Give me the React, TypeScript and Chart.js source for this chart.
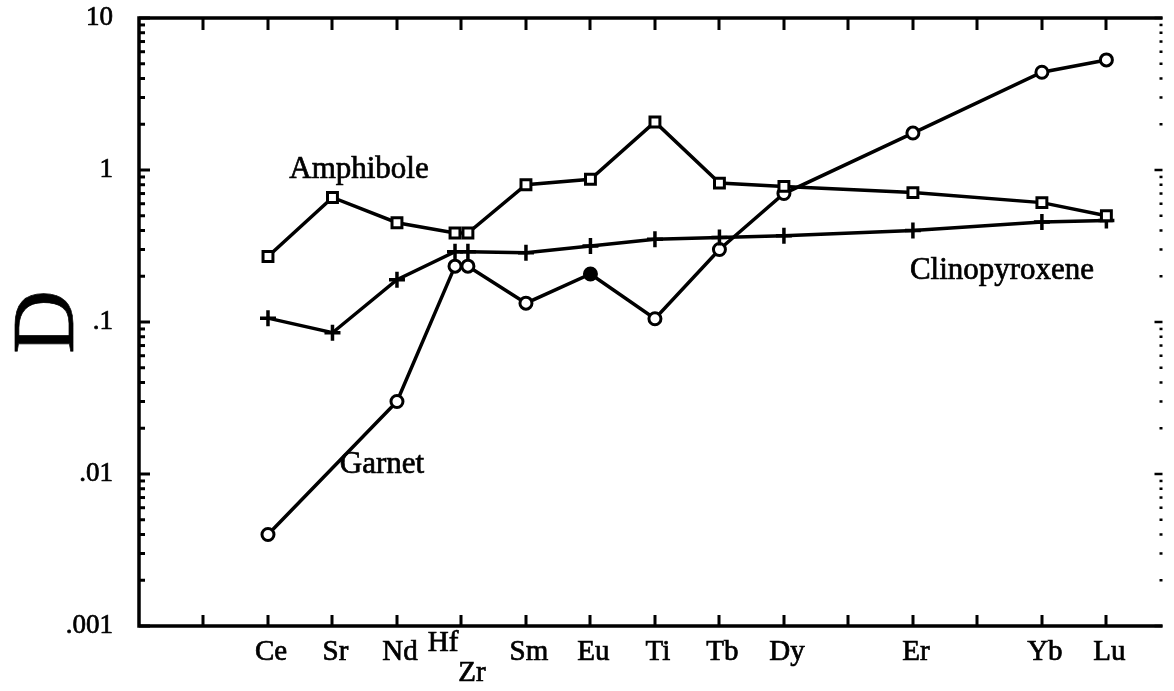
import React, { useEffect, useRef } from "react";
import { Chart, registerables } from "chart.js";

Chart.register(...registerables);

// Element order along the x axis and their slot positions
const elements = ["Ce", "Sr", "Nd", "Hf", "Zr", "Sm", "Eu", "Ti", "Tb", "Dy", "Er", "Yb", "Lu"];
const elementSlots = [2, 3, 4, 4.9, 5.1, 6, 7, 8, 9, 10, 12, 14, 15];

// Partition coefficients D
const amphibole = [0.27, 0.66, 0.45, 0.385, 0.385, 0.8, 0.87, 2.07, 0.82, 0.78, 0.71, 0.61, 0.5];
const clinopyroxene = [0.106, 0.085, 0.19, 0.29, 0.29, 0.285, 0.316, 0.35, 0.36, 0.37, 0.4, 0.455, 0.465];
const garnet = [0.004, null, 0.03, 0.233, 0.233, 0.133, 0.207, 0.105, 0.3, 0.7, 1.75, 4.4, 5.3];
const garnetFilled = ["Eu"];

// Axis ticks
const xTickSlots = [1, 2, 3, 4, 5, 6, 7, 8, 9, 10, 11, 12, 13, 14, 15];
const yDecades = [0.001, 0.01, 0.1, 1, 10];
const yDecadeLabels = [".001", ".01", ".1", "1", "10"];

const FONT = "'Liberation Serif', 'Times New Roman', serif";

function points(values: (number | null)[]) {
  const out: { x: number; y: number }[] = [];
  values.forEach((v, i) => {
    if (v !== null) out.push({ x: elementSlots[i], y: v });
  });
  return out;
}

// filled text with a thin outline so the serif glyphs read like print
function inkText(ctx: CanvasRenderingContext2D, text: string, x: number, y: number) {
  ctx.fillText(text, x, y);
  ctx.lineWidth = 0.7;
  ctx.strokeText(text, x, y);
}

const framePlugin = {
  id: "frame",
  afterDraw(chart: any) {
    const ctx = chart.ctx;
    const { left, right, top, bottom } = chart.chartArea;
    const xs = chart.scales.x;
    const ys = chart.scales.y;
    ctx.save();
    ctx.strokeStyle = "#000";
    ctx.fillStyle = "#000";
    ctx.lineCap = "butt";

    // frame: left, top, bottom
    ctx.lineWidth = 3.5;
    ctx.beginPath();
    ctx.moveTo(right, top);
    ctx.lineTo(left, top);
    ctx.lineTo(left, bottom);
    ctx.lineTo(right, bottom);
    ctx.stroke();

    // x ticks, inward on top and bottom
    ctx.lineWidth = 3;
    xTickSlots.forEach((s) => {
      const px = Math.round(xs.getPixelForValue(s));
      ctx.beginPath();
      ctx.moveTo(px, top);
      ctx.lineTo(px, top + 12);
      ctx.moveTo(px, bottom);
      ctx.lineTo(px, bottom - 11);
      ctx.stroke();
    });

    // y ticks: decades and minor 2..9, left side and right side
    for (let d = 0; d < yDecades.length; d++) {
      const base = yDecades[d];
      for (let m = 1; m <= 9; m++) {
        const v = base * m;
        if (v > 10.0001) break;
        const py = ys.getPixelForValue(v);
        const major = m === 1;
        ctx.lineWidth = 3;
        ctx.beginPath();
        ctx.moveTo(left, py);
        ctx.lineTo(left + (major ? 11 : 6), py);
        ctx.stroke();
        ctx.lineWidth = 2.5;
        ctx.beginPath();
        ctx.moveTo(right, py);
        ctx.lineTo(right - (major ? 8 : 3), py);
        ctx.stroke();
      }
    }

    // y tick labels
    ctx.font = `27px ${FONT}`;
    ctx.textAlign = "right";
    ctx.textBaseline = "middle";
    yDecades.forEach((v, i) => {
      inkText(ctx, yDecadeLabels[i], left - 26, ys.getPixelForValue(v));
    });

    // x element labels
    ctx.font = `29px ${FONT}`;
    ctx.textAlign = "center";
    ctx.textBaseline = "middle";
    elements.forEach((el, i) => {
      const s = elementSlots[i];
      let px = xs.getPixelForValue(Math.round(s));
      let py = bottom + 26;
      if (el === "Hf") {
        px = xs.getPixelForValue(s) - 12;
        py = bottom + 17;
      } else if (el === "Zr") {
        px = xs.getPixelForValue(s) + 4;
        py = bottom + 47;
      } else {
        px += 3;
      }
      inkText(ctx, el, px, py);
    });

    // y axis title
    ctx.save();
    ctx.translate(50, ys.getPixelForValue(0.1));
    ctx.rotate(-Math.PI / 2);
    ctx.font = `88px ${FONT}`;
    ctx.textAlign = "center";
    ctx.textBaseline = "middle";
    inkText(ctx, "D", 0, 0);
    ctx.restore();

    // series names
    ctx.font = `31px ${FONT}`;
    ctx.textAlign = "center";
    ctx.textBaseline = "middle";
    inkText(ctx, "Amphibole", 359, 170);
    inkText(ctx, "Garnet", 382, 465);
    inkText(ctx, "Clinopyroxene", 1002, 271);
    ctx.restore();
  },
};

export default function App() {
  const ref = useRef<HTMLCanvasElement | null>(null);

  useEffect(() => {
    document.body.style.margin = "0";
    const canvas = ref.current;
    if (!canvas) return;
    const common = {
      borderColor: "#000",
      borderWidth: 3.5,
      pointBorderColor: "#000",
      pointBorderWidth: 3,
      showLine: true,
      spanGaps: true,
      tension: 0,
    };
    const chart = new Chart(canvas, {
      type: "scatter",
      data: {
        datasets: [
          {
            ...common,
            label: "Amphibole",
            data: points(amphibole),
            pointStyle: "rect",
            pointRadius: 7,
            pointBackgroundColor: "#fff",
          },
          {
            ...common,
            label: "Clinopyroxene",
            data: points(clinopyroxene),
            pointStyle: "cross",
            pointRadius: 8,
            pointBorderWidth: 3.5,
            pointBackgroundColor: "#000",
          },
          {
            ...common,
            label: "Garnet",
            data: points(garnet),
            pointStyle: "circle",
            pointRadius: 6,
            pointBackgroundColor: elements
              .filter((_, i) => garnet[i] !== null)
              .map((el) => (garnetFilled.includes(el) ? "#000" : "#fff")),
          },
        ],
      },
      options: {
        animation: false,
        responsive: false,
        layout: { padding: { left: 139, right: 2, top: 18, bottom: 65 } },
        plugins: { legend: { display: false }, tooltip: { enabled: false } },
        scales: {
          x: { type: "linear", min: 0, max: 15.87, display: false },
          y: { type: "logarithmic", min: 0.001, max: 10, display: false },
        },
      },
      plugins: [framePlugin],
    });
    return () => chart.destroy();
  }, []);

  return <canvas ref={ref} width={1174} height={691} style={{ display: "block" }} />;
}
